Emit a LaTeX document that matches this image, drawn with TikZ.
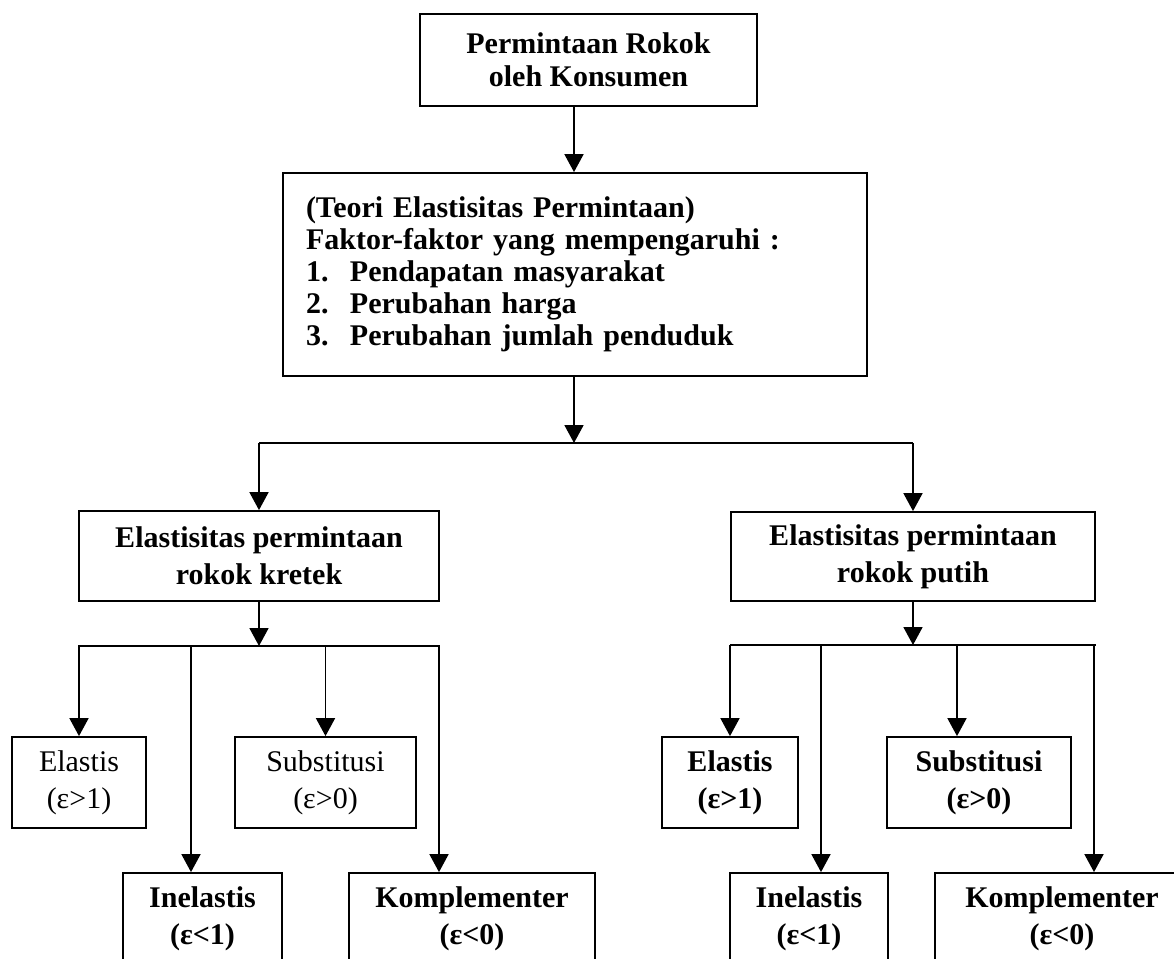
\documentclass[tikz,border=0pt]{standalone}
\usepackage{fontspec}
\setmainfont{Liberation Serif}
\usetikzlibrary{arrows.meta, positioning}
\tikzstyle{baseBox} = [shape=rectangle, draw=black, line width=0.9pt, 
	align=center, fill=white, inner sep=0pt, font=\bfseries\fontsize{15}{18.5}\selectfont]
\tikzstyle{headBox} = [baseBox, font=\bfseries\fontsize{15}{16.5}\selectfont]
\tikzstyle{listBox} = [baseBox, align=left, inner xsep=11.5pt, text width=269pt, 
	font=\bfseries\fontsize{15}{16}\selectfont]
\tikzstyle{plainBox} = [baseBox, font=\fontsize{15}{18.5}\selectfont]
\tikzstyle{normalArrow} = [line width=0.9pt, -{Triangle[length=9pt, width=9.5pt]}]
\tikzstyle{normalLine} = [line width=0.9pt]
\begin{document}
\begin{tikzpicture}[x=0.5pt, y=-0.5pt]
  \useasboundingbox (0,0) rectangle (1174,959);
  \clip (0,0) rectangle (1174,959);

  \node (KONS) [headBox, minimum width=168.5pt, minimum height=46pt] at (588.5,60) {Permintaan Rokok\\oleh Konsumen};
  \node (TEORI) [listBox, minimum height=101.5pt] at (575,274.5) {(Teori Elastisitas Permintaan)\\
    Faktor-faktor yang mempengaruhi :\\
    \makebox[22pt][l]{1.}Pendapatan masyarakat\\
    \makebox[22pt][l]{2.}Perubahan harga\\
    \makebox[22pt][l]{3.}Perubahan jumlah penduduk};
  \node (KRETEK) [baseBox, minimum width=180pt, minimum height=45pt] at (259,556) {Elastisitas permintaan\\rokok kretek};
  \node (PUTIH) [baseBox, minimum width=182pt, minimum height=44.5pt] at (913,556.5) {Elastisitas permintaan\\rokok putih};

  \node (ELK) [plainBox, minimum width=67pt, minimum height=45.5pt] at (79,782.5) {Elastis\\(ε>1)};
  \node (SUK) [plainBox, minimum width=90.5pt, minimum height=45.5pt] at (325.5,782.5) {Substitusi\\(ε>0)};
  \node (INK) [baseBox, minimum width=79.5pt, minimum height=45.5pt] at (202.5,918.5) {Inelastis\\(ε<1)};
  \node (KOK) [baseBox, minimum width=123pt, minimum height=45.5pt] at (472,918.5) {Komplementer\\(ε<0)};
  \node (ELP) [baseBox, minimum width=68pt, minimum height=45.5pt] at (730,782.5) {Elastis\\(ε>1)};
  \node (SUP) [baseBox, minimum width=92pt, minimum height=45.5pt] at (979,782.5) {Substitusi\\(ε>0)};
  \node (INP) [baseBox, minimum width=79pt, minimum height=45.5pt] at (809,918.5) {Inelastis\\(ε<1)};
  \node (KOP) [baseBox, minimum width=127pt, minimum height=45.5pt] at (1062,918.5) {Komplementer\\(ε<0)};

  \coordinate (splitTop) at (574,443);
  \coordinate (splitK) at (259,646);
  \coordinate (splitP) at (913,645);
  \coordinate (dropINK) at (191,646);
  \coordinate (dropKOK) at (439,646);
  \coordinate (dropINP) at (821,645);
  \coordinate (dropSUP) at (957,645);
  \coordinate (dropKOP) at (1094,645);

  \draw [normalArrow] (KONS.south -| splitTop) -- (TEORI.north -| splitTop);
  \draw [normalArrow] (TEORI.south -| splitTop) -- (splitTop);
  \draw [normalLine] (splitTop -| KRETEK) -- (splitTop -| PUTIH);
  \draw [normalArrow] (splitTop -| KRETEK) -- (KRETEK);
  \draw [normalArrow] (splitTop -| PUTIH) -- (PUTIH);

  \draw [normalArrow] (KRETEK) -- (splitK);
  \draw [normalLine] (splitK -| KRETEK.west) -- (splitK -| KRETEK.east);
  \draw [normalArrow] (splitK -| ELK) -- (ELK);
  \draw [normalArrow] (dropINK) -- (dropINK |- INK.north);
  \draw [normalArrow] (splitK -| SUK) -- (SUK);
  \draw [normalArrow] (dropKOK) -- (dropKOK |- KOK.north);

  \draw [normalArrow] (PUTIH) -- (splitP);
  \draw [normalLine] (splitP -| PUTIH.west) -- (splitP -| PUTIH.east);
  \draw [normalArrow] (splitP -| ELP) -- (ELP);
  \draw [normalArrow] (dropINP) -- (dropINP |- INP.north);
  \draw [normalArrow] (dropSUP) -- (dropSUP |- SUP.north);
  \draw [normalArrow] (dropKOP) -- (dropKOP |- KOP.north);

\end{tikzpicture}
\end{document}
